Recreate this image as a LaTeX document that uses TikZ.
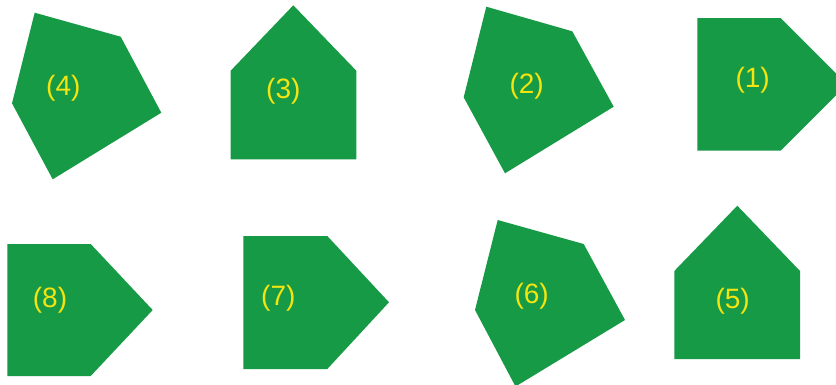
\documentclass[tikz,border=0pt]{standalone}
\usepackage{fontspec}
\setmainfont{Liberation Sans}
\definecolor{polygreen}{RGB}{23,154,70}
\definecolor{labelyellow}{RGB}{244,228,16}
\tikzset{
  poly/.style={fill=polygreen, draw=none},
  lbl/.style={text=labelyellow, font=\fontsize{28}{30}\selectfont, inner sep=0pt, anchor=center}
}
\begin{document}
\begin{tikzpicture}[x=1pt,y=-1pt]
\useasboundingbox (0,0) rectangle (836,384);
\clip (0,0) rectangle (836,384);
% (4)
\fill[poly] (34.7,12.7) -- (120.7,36.7) -- (161.3,112.7) -- (52.7,179.3) -- (12,103.3) -- cycle;
\node[lbl] (l4) at (63.3,88) {(4)};
% (3)
\fill[poly] (293.3,5.3) -- (356.3,70.7) -- (356.3,159.3) -- (230.7,159.3) -- (230.7,70.7) -- cycle;
\node[lbl] (l3) at (283.3,91) {(3)};
% (2)
\fill[poly] (486.3,6.7) -- (572.3,31.3) -- (613.7,106.7) -- (505,173.3) -- (463.7,97.3) -- cycle;
\node[lbl] (l2) at (526.7,86) {(2)};
% (1)
\fill[poly] (697.3,18) -- (780.7,18) -- (847,84.3) -- (780.7,150.7) -- (697.3,150.7) -- cycle;
\node[lbl] (l1) at (752.7,80) {(1)};
% (8)
\fill[poly] (7.3,244) -- (90.7,244) -- (152.7,310) -- (90.7,376) -- (7.3,376) -- cycle;
\node[lbl] (l8) at (50,300) {(8)};
% (7)
\fill[poly] (243.3,236) -- (327.3,236) -- (389,302.3) -- (327.3,369) -- (243.3,369) -- cycle;
\node[lbl] (l7) at (278.3,298.3) {(7)};
% (6)
\fill[poly] (497.7,220) -- (583.7,244) -- (625,320) -- (515.5,386.5) -- (475,310) -- cycle;
\node[lbl] (l6) at (531.7,296) {(6)};
% (5)
\fill[poly] (737.3,205.7) -- (800,271) -- (800,359) -- (674.3,359) -- (674.3,271) -- cycle;
\node[lbl] (l5) at (732.7,301) {(5)};
\end{tikzpicture}
\end{document}
